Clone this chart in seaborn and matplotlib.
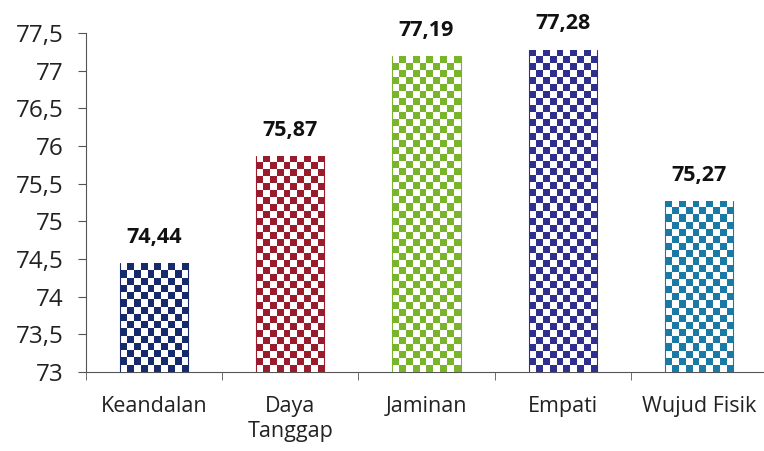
import matplotlib
matplotlib.use("Agg")
import matplotlib.pyplot as plt
import matplotlib.ticker as mticker
from matplotlib.colors import ListedColormap
import numpy as np
import pandas as pd
import seaborn as sns

sns.set_style("white")
plt.rcParams['font.family'] = ['Open Sans', 'DejaVu Sans']

# data
kategori = ["Keandalan", "Daya\nTanggap", "Jaminan", "Empati", "Wujud Fisik"]
nilai = [74.44, 75.87, 77.19, 77.28, 75.27]
warna = ["#172a6b", "#9a1c2c", "#7ab42a", "#2f2f8e", "#1b79a6"]

df = pd.DataFrame({"kategori": kategori, "nilai": nilai})

fig = plt.figure(figsize=(7.64, 4.51), dpi=100)
ax = fig.add_axes([0.1126, 0.1752, 0.8914, 0.7517])

sns.barplot(data=df, x="kategori", y="nilai", hue="kategori", palette=warna,
            width=0.5, legend=False, ax=ax, linewidth=0)

ax.set_ylim(73, 77.5)
ax.set_xlim(-0.5, 4.5)

# checkerboard fill for each bar (clipped to the bar patch)
for p, c in zip(ax.patches, warna):
    x0, w = p.get_x(), p.get_width()
    y0, h = 73, p.get_y() + p.get_height() - 73
    ncol = 10
    nrow = max(1, int(round(h * 75.3 / 7.0)))
    grid = (np.add.outer(np.arange(nrow), np.arange(ncol)) % 2).astype(float)
    cmap = ListedColormap(["white", c])
    p.set_facecolor("white")
    im = ax.imshow(grid, cmap=cmap, extent=(x0, x0 + w, y0 + h, y0),
                   aspect="auto", interpolation="nearest", zorder=3)
    im.set_clip_path(p)
    ax.plot([x0, x0], [y0, y0 + h], color=c, lw=0.8, zorder=4)
    ax.plot([x0 + w, x0 + w], [y0, y0 + h], color=c, lw=0.8, zorder=4)

ax.set_xlim(-0.5, 4.5)
ax.set_ylim(73, 77.5)

# value labels
for i, v in enumerate(nilai):
    ax.text(i, v + 0.2, f"{v:.2f}".replace(".", ","), ha="center", va="bottom",
            fontsize=15.5, fontweight="bold", color="#111111")

ax.yaxis.set_major_locator(mticker.MultipleLocator(0.5))
ax.yaxis.set_major_formatter(mticker.FuncFormatter(
    lambda v, _: (f"{v:g}").replace(".", ",")))

ax.set_xticks(range(len(kategori)))
ax.set_xticklabels(kategori, fontsize=15.5, color="#222222", linespacing=1.25)
ax.set_xticks(np.arange(-0.5, 5, 1), minor=True)
ax.tick_params(axis="x", which="major", length=0, pad=17, bottom=True)
ax.tick_params(axis="x", which="minor", length=6, direction="out",
               color="#555555", bottom=True)
ax.tick_params(axis="y", length=6, direction="out", color="#555555", left=True,
               labelsize=17.5, labelcolor="#222222", pad=10)

ax.set_xlabel("")
ax.set_ylabel("")
sns.despine(ax=ax)
ax.spines["left"].set_color("#555555")
ax.spines["bottom"].set_color("#555555")
ax.grid(False)

fig.savefig("out.png", dpi=100)
